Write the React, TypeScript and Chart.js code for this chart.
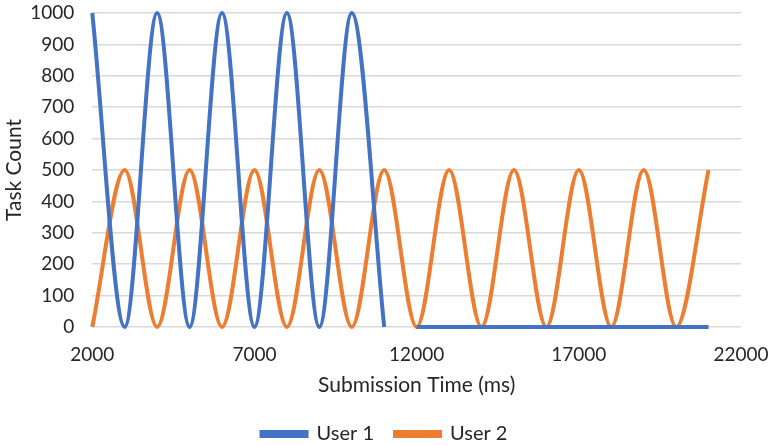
import React, { useEffect, useRef } from "react";
import { Chart, registerables } from "chart.js";

Chart.register(...registerables);

const user1Times = [2000, 3000, 4000, 5000, 6000, 7000, 8000, 9000, 10000, 11000, 11500, 12000, 21000];
const user1Counts = [1000, 0, 1000, 0, 1000, 0, 1000, 0, 1000, 0, null, 0, 0];

const user2Times = [2000, 3000, 4000, 5000, 6000, 7000, 8000, 9000, 10000, 11000, 12000, 13000, 14000, 15000, 16000, 17000, 18000, 19000, 20000, 21000];
const user2Counts = [0, 500, 0, 500, 0, 500, 0, 500, 0, 500, 0, 500, 0, 500, 0, 500, 0, 500, 0, 500];

const xTicks = [2000, 7000, 12000, 17000, 22000];

const BLUE = "#4472C4";
const ORANGE = "#ED7D31";
const TEXT = "#262626";
const FONT = "Lato";

const centerLegend = {
  id: "centerLegend",
  beforeDraw(chart: any) {
    const l = chart.legend;
    if (l) {
      l.left = 0;
      l.right = chart.width;
      l.width = chart.width;
    }
  },
};

export default function App() {
  const ref = useRef<HTMLCanvasElement | null>(null);
  useEffect(() => {
    document.body.style.margin = "0";
    const ctx = ref.current!;
    const chart = new Chart(ctx, {
      type: "line",
      plugins: [centerLegend],
      data: {
        datasets: [
          {
            label: "User 1",
            data: user1Times.map((x, i) => ({ x, y: user1Counts[i] as any })),
            borderColor: BLUE,
            backgroundColor: BLUE,
            borderWidth: 4,
            pointRadius: 0,
            cubicInterpolationMode: "monotone",
            spanGaps: false,
            clip: 8,
          },
          {
            label: "User 2",
            data: user2Times.map((x, i) => ({ x, y: user2Counts[i] })),
            borderColor: ORANGE,
            backgroundColor: ORANGE,
            borderWidth: 4,
            pointRadius: 0,
            cubicInterpolationMode: "monotone",
            clip: 8,
          },
        ],
      },
      options: {
        animation: false,
        responsive: false,
        layout: { padding: { top: 13, right: 28, left: 0, bottom: -8 } },
        plugins: {
          tooltip: { enabled: false },
          legend: {
            position: "bottom",
            labels: {
              boxWidth: 45,
              boxHeight: 4,
              color: TEXT,
              font: { family: FONT, size: 20 },
              padding: 21,
            },
          },
        },
        scales: {
          x: {
            type: "linear",
            min: 2000,
            max: 22000,
            afterBuildTicks: (axis: any) => {
              axis.ticks = xTicks.map((v) => ({ value: v }));
            },
            ticks: {
              color: TEXT,
              font: { family: FONT, size: 19 },
              maxRotation: 0,
              padding: 0,
              callback: (v: any) => String(v),
            },
            grid: { display: true, drawOnChartArea: false, drawTicks: true, tickLength: 16, tickColor: "rgba(0,0,0,0)", color: "rgba(0,0,0,0)" },
            border: { display: false },
            title: {
              display: true,
              text: "Submission Time (ms)",
              color: TEXT,
              font: { family: FONT, size: 21 },
              padding: { top: 7, bottom: 5 },
            },
          },
          y: {
            min: 0,
            max: 1000,
            ticks: {
              stepSize: 100,
              color: TEXT,
              font: { family: FONT, size: 19 },
              padding: 0,
              callback: (v: any) => String(v),
            },
            grid: { color: "#d9d9d9", lineWidth: 1.5, drawTicks: true, tickLength: 18, tickColor: "rgba(0,0,0,0)" },
            border: { display: false },
            title: {
              display: true,
              text: "Task Count",
              color: TEXT,
              font: { family: FONT, size: 21 },
              padding: { top: 2, bottom: 3 },
            },
          },
        },
      },
    });
    return () => chart.destroy();
  }, []);
  return <canvas ref={ref} width={769} height={446} style={{ display: "block" }} />;
}
